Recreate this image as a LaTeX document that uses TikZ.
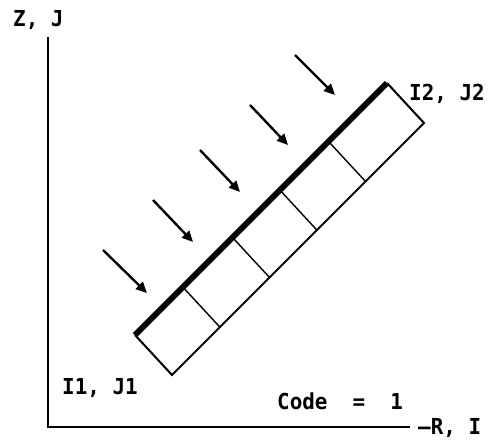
\documentclass[tikz,border=0pt]{standalone}
\usepackage{fontspec}
\newfontfamily\lett{DejaVu Sans Mono}[FakeStretch=0.95]
\usetikzlibrary{arrows.meta,calc}
\begin{document}
\begin{tikzpicture}[x=1pt,y=-1pt,
  axis/.style={line width=2.4pt},
  thickedge/.style={line width=6pt},
  thinedge/.style={line width=2pt,line join=miter},
  divider/.style={line width=1.4pt},
  flux/.style={line width=2.4pt,-{Triangle[length=11pt,width=10pt]}},
  lbl/.style={font=\lett\bfseries\fontsize{22}{26}\selectfont,inner sep=0pt,anchor=west}]
\useasboundingbox (0,0) rectangle (496,445);
% axes
\coordinate (ztop) at (48,37);
\coordinate (orig) at (48,427);
\coordinate (rend) at (410,427);
\draw[axis] (ztop) -- (orig) -- (rend);
% panel
\coordinate (A) at (135,335);
\coordinate (B) at (387,83);
\coordinate (C) at (424,123);
\coordinate (D) at (172,375);
\draw[thinedge] (A) -- (D) -- (C) -- (B);
\draw[thickedge] (A) -- (B);
\foreach \t in {0.19,0.387,0.575,0.768}{
  \draw[divider] ($(A)!\t!(B)$) -- ($(D)!\t!(C)$);
}
% incoming arrows
\foreach \i/\xa/\ya/\xb/\yb in {1/103/250/147/293,2/153/200/193/242,3/200/150/240/192,4/250/105/288/145,5/295/55/335/95}{
  \coordinate (s\i) at (\xa,\ya);
  \coordinate (e\i) at (\xb,\yb);
  \draw[flux] (s\i) -- (e\i);
}
% labels
\node[lbl] (zj) at (13,20) {Z,~J};
\node[lbl] (ij2) at (409,94) {I2,~J2};
\node[lbl] (ij1) at (62,388) {I1,~J1};
\node[lbl] (code) at (277,401) {Code~~=~~1};
\node[lbl] (ri) at (418,428) {–R,~I};
\end{tikzpicture}
\end{document}
